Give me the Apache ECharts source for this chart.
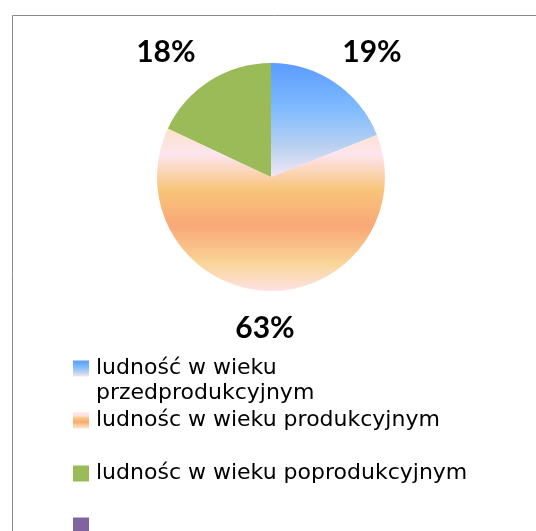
<!DOCTYPE html>
<html>
<head>
<meta charset="utf-8">
<script src="https://cdn.jsdelivr.net/npm/echarts@6/dist/echarts.min.js"></script>
<style>
  html, body { margin: 0; padding: 0; background: #fff; }
  #chart { width: 536px; height: 531px; }
</style>
</head>
<body>
<div id="chart"></div>
<script>
// age groups and their share of population (%)
const categories = [
  'ludność w wieku przedprodukcyjnym',
  'ludnośc w wieku produkcyjnym',
  'ludnośc w wieku poprodukcyjnym',
  ' '
]
const shares = [19, 63, 18, 0]

const grad = stops => new echarts.graphic.LinearGradient(0, 0, 0, 1,
  stops.map(([offset, color]) => ({ offset, color })))

const colors = [
  grad([[0, '#5b9bff'], [0.4, '#7fbbff'], [0.75, '#bdd3f0'], [1, '#f2e6f6']]),
  grad([[0, '#fbe3c8'], [0.16, '#fde5ef'], [0.38, '#f8c47a'], [0.6, '#f9a877'], [0.83, '#f9d598'], [1, '#fde3e3']]),
  '#9bbb59',
  '#8064a2'
]

// vertical centre of each legend row
const legendRowY = [368, 421, 474, 526]

const chart = echarts.init(document.getElementById('chart'))

chart.setOption({
  animation: false,
  graphic: [{
    type: 'rect',
    shape: { x: 12.5, y: 15.5, width: 700, height: 700 },
    style: { fill: 'none', stroke: '#8a8a8a', lineWidth: 1 },
    silent: true
  }],
  legend: categories.map((name, i) => ({
    data: [name],
    orient: 'vertical',
    left: 73,
    // the first entry wraps onto two lines; an empty leading line keeps its
    // first line level with the icon (text is centred on the icon)
    top: i === 0 ? legendRowY[i] - 37 : legendRowY[i] - 13,
    padding: 0,
    itemWidth: 16,
    itemHeight: 16,
    icon: 'rect',
    selectedMode: false,
    formatter: i === 0 ? n => '\n' + n : n => n,
    textStyle: {
      fontFamily: 'DejaVu Sans',
      fontSize: 22,
      color: '#000',
      lineHeight: 25,
      width: 395,
      overflow: 'break',
      padding: [0, 0, 0, 2]
    }
  })),
  series: [{
    type: 'pie',
    center: [271, 177],
    radius: 114,
    startAngle: 90,
    clockwise: true,
    silent: true,
    percentPrecision: 0,
    data: categories.map((name, i) => ({
      name,
      value: shares[i],
      itemStyle: { color: colors[i] },
      label: { show: shares[i] > 0 }
    })),
    label: {
      position: 'inside',
      formatter: '{d}%',
      fontFamily: 'Lato',
      fontWeight: 'bold',
      fontSize: 30,
      color: '#000'
    },
    labelLine: { show: false },
    labelLayout(p) {
      const r = p.rect
      if (p.dataIndex === 0) return { x: r.x + r.width - 5, y: r.y - 11, align: 'center', verticalAlign: 'middle' }
      if (p.dataIndex === 1) return { x: r.x + r.width / 2 - 6, y: r.y + r.height + 37, align: 'center', verticalAlign: 'middle' }
      if (p.dataIndex === 2) return { x: r.x - 2, y: r.y - 11, align: 'center', verticalAlign: 'middle' }
      return {}
    }
  }]
})
</script>
</body>
</html>
